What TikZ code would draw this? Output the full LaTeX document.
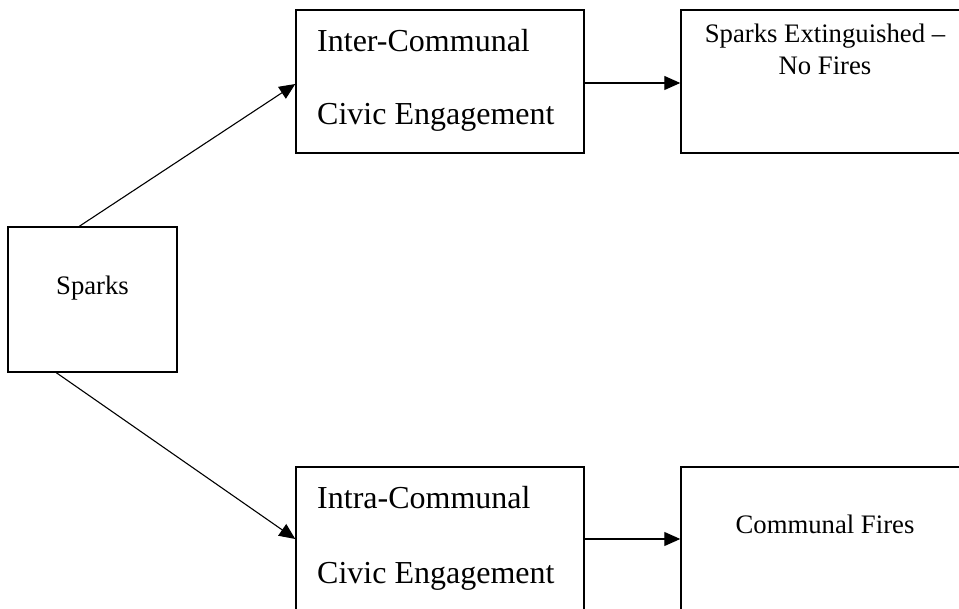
\documentclass[tikz,border=0pt]{standalone}
\usepackage{fontspec}
\setmainfont{Liberation Serif}
\usetikzlibrary{arrows.meta}
\begin{document}
\begin{tikzpicture}[x=1pt,y=-1pt,
  box/.style={draw=black,line width=1.4pt,rectangle,inner sep=0pt},
  big/.style={inner sep=0pt,font=\fontsize{32}{38}\selectfont},
  small/.style={inner sep=0pt,font=\fontsize{26.7}{32}\selectfont},
  conn/.style={line width=1.1pt,-{Triangle[length=16pt,width=14pt]}}]
\useasboundingbox (0,0) rectangle (959,609);
\clip (0,0) rectangle (959,609);
\fill[white] (0,0) rectangle (959,609);
% boxes
\node[box,minimum width=169pt,minimum height=145pt] (sparks) at (92.5,299.5) {};
\node[box,minimum width=288pt,minimum height=143pt] (inter) at (440,81.5) {};
\node[box,minimum width=288pt,minimum height=143pt] (ext) at (825,81.5) {};
\node[box,minimum width=288pt,minimum height=143pt] (intra) at (440,538.5) {};
\node[box,minimum width=288pt,minimum height=143pt] (fires) at (825,538.5) {};
% texts
\node[small,anchor=base] (tsparks) at (92.5,295) {Sparks};
\node[big,anchor=base west] (tinter1) at (317,52) {Inter-Communal};
\node[big,anchor=base west] (tinter2) at (317,125) {Civic Engagement};
\node[small,anchor=base] (text1) at (825,43) {Sparks Extinguished –};
\node[small,anchor=base] (text2) at (825,75) {No Fires};
\node[big,anchor=base west] (tintra1) at (317,508) {Intra-Communal};
\node[big,anchor=base west] (tintra2) at (317,583) {Civic Engagement};
\node[small,anchor=base] (tfires) at (825,533) {Communal Fires};
% connectors
\draw[conn] ([xshift=72pt]sparks.north west) -- ([yshift=-2.5pt]inter.west);
\draw[conn] ([xshift=49pt]sparks.south west) -- ([yshift=-0.5pt]intra.west);
\draw[conn] ([yshift=-1.5pt]inter.east) -- ([yshift=-1.5pt]ext.west);
\draw[conn] ([yshift=-0.5pt]intra.east) -- ([yshift=-0.5pt]fires.west);
\end{tikzpicture}
\end{document}
